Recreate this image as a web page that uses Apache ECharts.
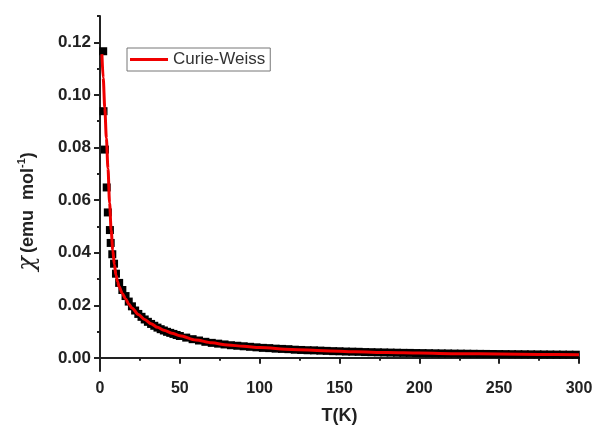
<!DOCTYPE html>
<html>
<head>
<meta charset="utf-8">
<script src="https://cdn.jsdelivr.net/npm/echarts@6/dist/echarts.min.js"></script>
<style>
  html, body { margin: 0; padding: 0; background: #fff; }
  #chart { width: 596px; height: 435px; }
</style>
</head>
<body>
<div id="chart"></div>
<script>
// measured points (black squares)
var tempK = [2, 2.2, 3.1, 4.2, 4.9, 6.2, 6.7, 7.7, 8.8,
  10, 12, 14, 16, 18, 20, 22, 24, 26, 28, 30, 32, 34, 36, 38, 40, 42, 44, 46, 48,
  50, 54, 58, 62, 66, 70, 74, 78, 82, 86, 90, 94, 98, 102, 106, 110, 114, 118, 122, 126,
  130, 134, 138, 142, 146, 150, 154, 158, 162, 166, 170, 174, 178, 182, 186, 190, 194, 198,
  202, 206, 210, 214, 218, 222, 226, 230, 234, 238, 242, 246, 250, 254, 258, 262, 266, 270,
  274, 278, 282, 286, 290, 294, 298];
var chiObs = [0.1166, 0.0938, 0.0792, 0.0648, 0.0553, 0.0486, 0.0437, 0.0394, 0.0358,
  0.0320, 0.0285, 0.0258, 0.0235, 0.0214, 0.0196, 0.0180, 0.0167, 0.0156, 0.0146, 0.0137, 0.0129, 0.0122, 0.0115, 0.0109, 0.0104, 0.0099, 0.0095, 0.0091, 0.0087,
  0.0083, 0.0077, 0.0071, 0.0066, 0.0061, 0.0057, 0.0054, 0.0051, 0.0048, 0.0046, 0.0044, 0.0042, 0.0040, 0.0038, 0.0037, 0.0035, 0.0034, 0.0033, 0.0031, 0.0030,
  0.0029, 0.00285, 0.00275, 0.00265, 0.00255, 0.0025, 0.0024, 0.00235, 0.0023, 0.0022, 0.00215, 0.0021, 0.00205, 0.0020, 0.00195, 0.0019, 0.00188, 0.00183,
  0.0018, 0.00176, 0.00172, 0.00169, 0.00166, 0.00162, 0.0016, 0.00157, 0.00154, 0.00151, 0.00149, 0.00146, 0.00144, 0.00142, 0.00139, 0.00137, 0.00135, 0.00133,
  0.00131, 0.00129, 0.00127, 0.00125, 0.00123, 0.00121, 0.0012];

// Curie-Weiss fit (red line)
var fitT = [1.2, 2, 3, 4, 5, 6, 7, 8, 9, 10, 11, 12, 14, 16, 18, 20, 24, 28, 32, 36, 40, 45, 50,
  60, 70, 80, 90, 100, 120, 140, 160, 180, 200, 225, 250, 275, 300];
var fitChi = [0.1155, 0.1065, 0.095, 0.0835, 0.072, 0.059, 0.0485, 0.041, 0.0355, 0.0315, 0.029, 0.027,
  0.0245, 0.0225, 0.0205, 0.019, 0.0165, 0.0146, 0.013, 0.0116, 0.0105, 0.0094, 0.0084,
  0.0068, 0.0057, 0.0049, 0.0044, 0.0039, 0.0032, 0.0027, 0.0023, 0.0020, 0.0018, 0.0016, 0.00145, 0.0013, 0.0012];

var yMajor = [0, 0.02, 0.04, 0.06, 0.08, 0.10, 0.12];
var yMinor = [0.01, 0.03, 0.05, 0.07, 0.09, 0.11, 0.13];

var font = "'Liberation Sans', Arial, sans-serif";

var obsData = tempK.map(function (t, i) { return [t, chiObs[i]]; });
var fitData = fitT.map(function (t, i) { return [t, fitChi[i]]; });

var myChart = echarts.init(document.getElementById("chart"));
myChart.setOption({
  animation: false,
  grid: { left: 100, right: 17, top: 16, bottom: 64, containLabel: false },
  legend: {
    left: 127,
    top: 48,
    padding: [3, 5, 3, 3],
    borderColor: "#777",
    borderWidth: 1,
    itemWidth: 38,
    itemHeight: 3,
    itemGap: 5,
    icon: "rect",
    data: ["Curie-Weiss"],
    textStyle: { fontFamily: font, fontSize: 17, color: "#333" }
  },
  xAxis: {
    type: "value",
    min: 0,
    max: 300,
    interval: 50,
    name: "T(K)",
    nameLocation: "middle",
    nameGap: 36,
    nameTextStyle: { fontFamily: font, fontSize: 18, fontWeight: "bold", color: "#222" },
    axisLine: { lineStyle: { color: "#222", width: 2 } },
    axisTick: { length: 6, lineStyle: { color: "#222", width: 2 } },
    minorTick: { show: true, splitNumber: 2, length: 3, lineStyle: { color: "#222", width: 2 } },
    splitLine: { show: false },
    axisLabel: { margin: 10, fontFamily: font, fontSize: 16, fontWeight: "bold", color: "#222" }
  },
  yAxis: [
    {
      type: "value",
      min: -0.005,
      max: 0.13,
      name: "{chi|χ} {b|(emu  mol}{sup|-1}{b|)}",
      nameLocation: "middle",
      nameGap: 60,
      nameTextStyle: {
        padding: [0, 36, 0, 0],
        rich: {
          chi: { fontFamily: "'DejaVu Serif', serif", fontStyle: "italic", fontSize: 24, color: "#222" },
          b: { fontFamily: font, fontSize: 18, fontWeight: "bold", color: "#222" },
          sup: { fontFamily: font, fontSize: 11, fontWeight: "bold", color: "#222", verticalAlign: "top", padding: [0, 0, 8, 0] }
        }
      },
      axisLine: { lineStyle: { color: "#222", width: 2 } },
      axisTick: { length: 6, customValues: yMajor, lineStyle: { color: "#222", width: 2 } },
      splitLine: { show: false },
      axisLabel: {
        margin: 9,
        customValues: yMajor,
        fontFamily: font,
        fontSize: 17,
        fontWeight: "bold",
        color: "#222",
        formatter: function (v) { return v.toFixed(2); }
      }
    },
    {
      type: "value",
      min: -0.005,
      max: 0.13,
      position: "left",
      axisLine: { show: false },
      axisTick: { length: 3, customValues: yMinor, lineStyle: { color: "#222", width: 2 } },
      axisLabel: { show: false },
      splitLine: { show: false }
    }
  ],
  series: [
    {
      name: "data",
      type: "scatter",
      symbol: "rect",
      symbolSize: 8,
      itemStyle: { color: "#000", opacity: 1 },
      data: obsData,
      z: 2
    },
    {
      name: "Curie-Weiss",
      type: "line",
      showSymbol: false,
      symbol: "none",
      smooth: 0.3,
      smoothMonotone: "x",
      lineStyle: { color: "#f00000", width: 3 },
      itemStyle: { color: "#f00000" },
      data: fitData,
      z: 3
    }
  ]
});
</script>
</body>
</html>
